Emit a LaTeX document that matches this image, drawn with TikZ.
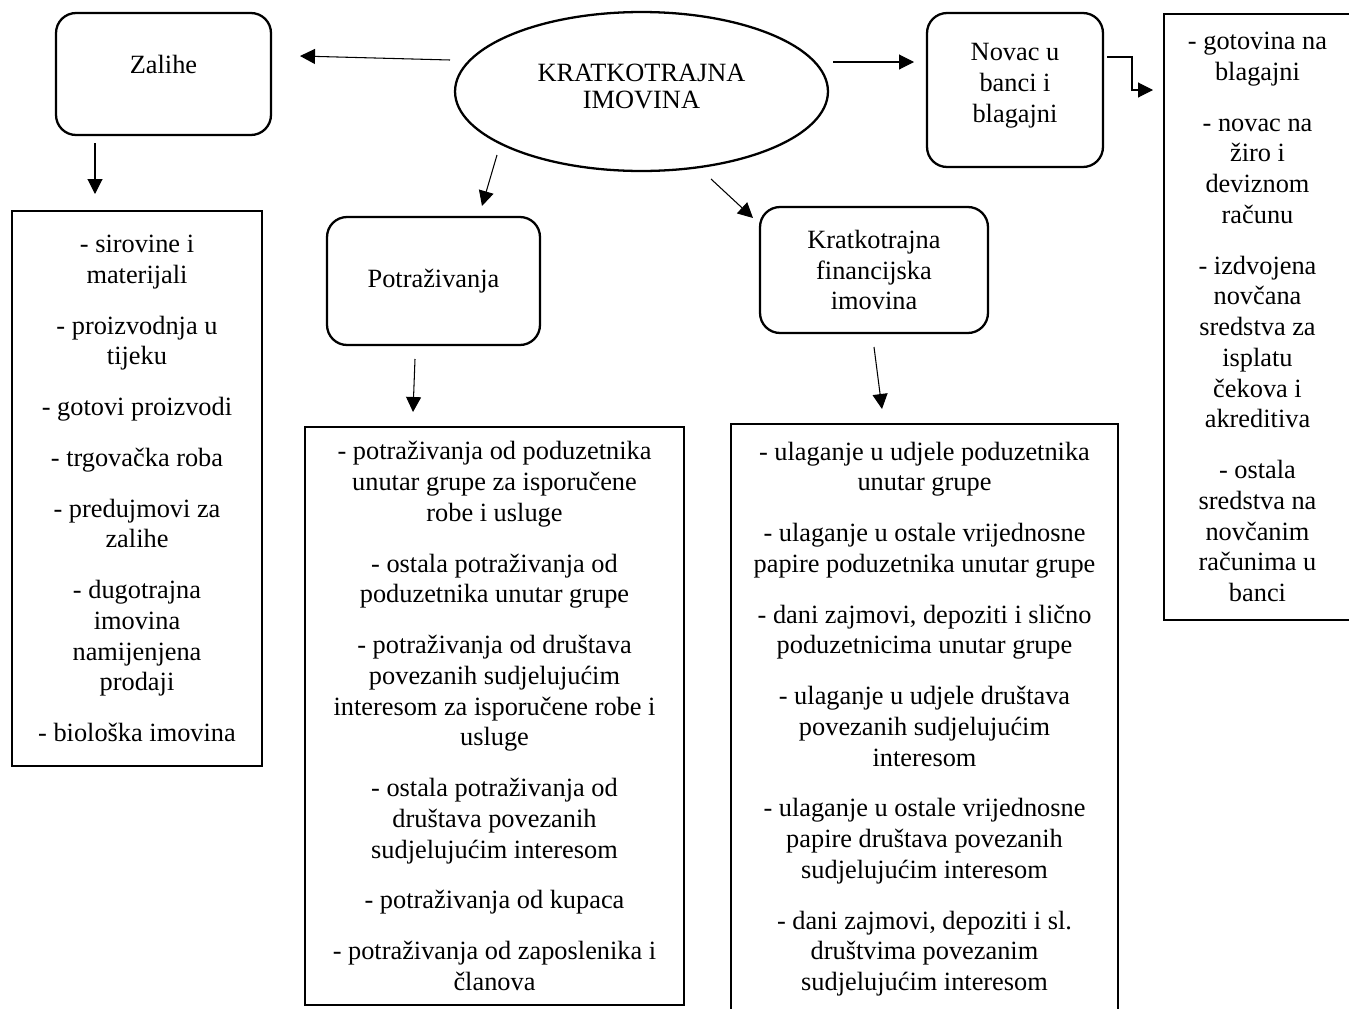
\documentclass[tikz,border=0pt]{standalone}
\usepackage{fontspec}
\setmainfont{Liberation Serif}
\usetikzlibrary{arrows.meta,shapes.geometric}
\tikzset{
	okvir/.style={draw,rounded corners=0.4cm,line width=1.3pt,align=center,inner sep=0pt},
	popis/.style={draw,line width=1.3pt,align=center,inner sep=0pt},
	strelica/.style={-{Triangle[length=0.3cm,width=0.3cm]},line width=0.6pt},
}
\newcommand{\razmak}{\\[0.4cm]}
\begin{document}
\begin{tikzpicture}[x=0.02cm,y=-0.02cm,font=\fontsize{15}{17.5}\selectfont]
		\useasboundingbox (0,0) rectangle (1349,1008);
		\clip (0,0) rectangle (1349,1008);
		% gornji red
		\node[ellipse,draw,line width=1.3pt,minimum width=7.46cm,minimum height=3.18cm,inner sep=0pt,align=center,text depth=0.2cm] (imov) at (641.5,91.5) {KRATKOTRAJNA\\[-0.08cm]IMOVINA};
		\node[okvir,minimum width=4.3cm,minimum height=2.44cm,text depth=0.4cm] (zal) at (163.5,74) {Zalihe};
		\node[okvir,minimum width=3.52cm,minimum height=3.08cm,text depth=0.28cm] (nov) at (1015,90) {Novac u\\banci i\\blagajni};
		\node[okvir,minimum width=4.26cm,minimum height=2.56cm] (potr) at (433.5,281) {Potraživanja};
		\node[okvir,minimum width=4.56cm,minimum height=2.52cm] (kfi) at (874,270) {Kratkotrajna\\financijska\\imovina};
		% popisi
		\node[popis,minimum width=5cm,minimum height=11.1cm] (zalpopis) at (137,488.5) {%
			- sirovine i\\materijali\razmak
			- proizvodnja u\\tijeku\razmak
			- gotovi proizvodi\razmak
			- trgovačka roba\razmak
			- predujmovi za\\zalihe\razmak
			- dugotrajna\\imovina\\namijenjena\\prodaji\razmak
			- biološka imovina};
		\node[popis,minimum width=7.58cm,minimum height=11.56cm] (potrpopis) at (494.5,716) {%
			- potraživanja od poduzetnika\\unutar grupe za isporučene\\robe i usluge\razmak
			- ostala potraživanja od\\poduzetnika unutar grupe\razmak
			- potraživanja od društava\\povezanih sudjelujućim\\interesom za isporučene robe i\\usluge\razmak
			- ostala potraživanja od\\društava povezanih\\sudjelujućim interesom\razmak
			- potraživanja od kupaca\razmak
			- potraživanja od zaposlenika i\\članova};
		\node[popis,minimum width=7.74cm,minimum height=11.8cm] (kfipopis) at (924.5,719) {%
			- ulaganje u udjele poduzetnika\\unutar grupe\razmak
			- ulaganje u ostale vrijednosne\\papire poduzetnika unutar grupe\razmak
			- dani zajmovi, depoziti i slično\\poduzetnicima unutar grupe\razmak
			- ulaganje u udjele društava\\povezanih sudjelujućim\\interesom\razmak
			- ulaganje u ostale vrijednosne\\papire društava povezanih\\sudjelujućim interesom\razmak
			- dani zajmovi, depoziti i sl.\\društvima povezanim\\sudjelujućim interesom};
		\node[popis,minimum width=3.74cm,minimum height=12.12cm] (novpopis) at (1257.5,317) {%
			- gotovina na\\blagajni\razmak
			- novac na\\žiro i\\deviznom\\računu\razmak
			- izdvojena\\novčana\\sredstva za\\isplatu\\čekova i\\akreditiva\razmak
			- ostala\\sredstva na\\novčanim\\računima u\\banci};
		% krajevi strelica
		\coordinate (z1) at (450,60);   \coordinate (z2) at (300,56);
		\coordinate (n1) at (833,62);   \coordinate (n2) at (914,62);
		\coordinate (b1) at (1107,57);  \coordinate (b2) at (1153,90);
		\coordinate (p1) at (497,155);  \coordinate (p2) at (482,206);
		\coordinate (k1) at (711,179);  \coordinate (k2) at (753,218);
		\coordinate (zd1) at (95,143);  \coordinate (zd2) at (95,194);
		\coordinate (pd1) at (415,359); \coordinate (pd2) at (413,412);
		\coordinate (kd1) at (874,347); \coordinate (kd2) at (882,409);
		\draw[strelica] (z1) -- (z2);
		\draw[strelica] (n1) -- (n2);
		\draw[strelica] (b1) -- (1132,57) |- (b2);
		\draw[strelica] (p1) -- (p2);
		\draw[strelica] (k1) -- (k2);
		\draw[strelica] (zd1) -- (zd2);
		\draw[strelica] (pd1) -- (pd2);
		\draw[strelica] (kd1) -- (kd2);
	\end{tikzpicture}
\end{document}
